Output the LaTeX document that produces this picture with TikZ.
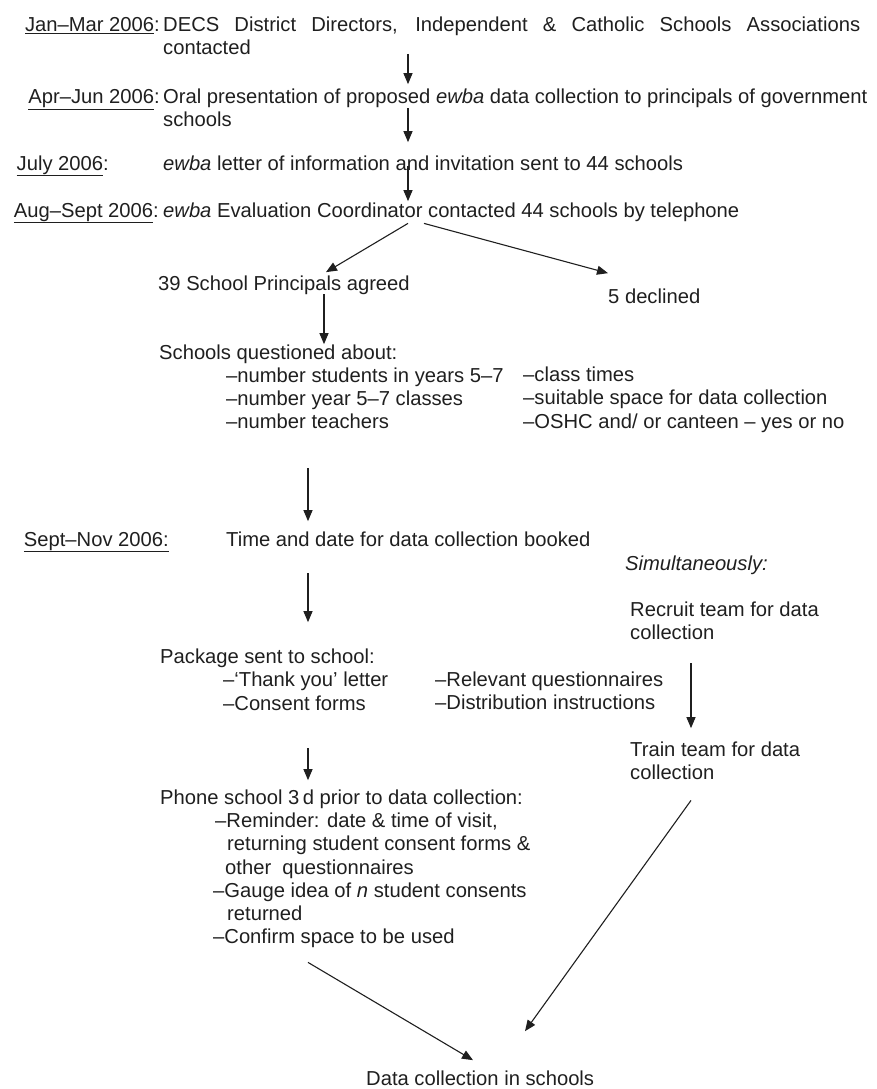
\documentclass[tikz,border=0pt]{standalone}
\usepackage{fontspec}
\setmainfont{Liberation Sans}
\usetikzlibrary{arrows.meta}
\usetikzlibrary{calc}

\begin{document}
\begin{tikzpicture}[x=1pt,y=-1pt,
    txt/.style={anchor=base west,inner sep=0pt,text=black!88,font=\fontsize{20.2}{23}\selectfont},
    datelbl/.style={txt,anchor=base east},
    flow/.style={draw=black!88,line width=1.1pt,-{Triangle[length=11pt,width=9pt]}}]
        \useasboundingbox (0,0) rectangle (877,1089);
        \coordinate (spine) at (408,0);
        \coordinate (lane) at (308,0);
        \coordinate (qlane) at (324,0);
        \coordinate (rlane) at (691,0);

        \node[datelbl] (jdate) at (160,32) {\underline{Jan–Mar 2006}:};
        \node[datelbl] (adate) at (160,104) {\underline{Apr–Jun 2006}:};
        \node[datelbl] (ydate) at (109,170) {\underline{July 2006}:};
        \node[datelbl] (gdate) at (159,217) {\underline{Aug–Sept 2006}:};
        \node[datelbl] (sdate) at (169,546) {\underline{Sept–Nov 2006:}};

        \node[txt] (jan1) at (163,32) {\makebox[697pt][s]{DECS District Directors, Independent \& Catholic Schools Associations}};
        \node[txt] (jan2) at (163,55) {contacted};
        \node[txt] (apr1) at (163,104) {Oral presentation of proposed \textit{ewba} data collection to principals of government};
        \node[txt] (apr2) at (163,127) {schools};
        \node[txt] (july) at (163,170) {\textit{ewba} letter of information and invitation sent to 44 schools};
        \node[txt] (aug) at (163,217) {\textit{ewba} Evaluation Coordinator contacted 44 schools by telephone};

        \node[txt] (agreed) at (158,290) {39 School Principals agreed};
        \node[txt] (declined) at (608,303) {5 declined};

        \node[txt] (quest) at (159,359) {Schools questioned about:};
        \node[txt] (q1) at (226,382) {–number students in years 5–7};
        \node[txt] (q2) at (226,405) {–number year 5–7 classes};
        \node[txt] (q3) at (226,428) {–number teachers};
        \node[txt] (q4) at (523,381) {–class times};
        \node[txt] (q5) at (523,404) {–suitable space for data collection};
        \node[txt] (q6) at (523,428) {–OSHC and/ or canteen – yes or no};

        \node[txt] (booked) at (226,546) {Time and date for data collection booked};
        \node[txt] (simul) at (625,570) {\textit{Simultaneously:}};
        \node[txt] (recruit) at (630,616) {Recruit team for data};
        \node[txt] (recruit2) at (630,639) {collection};

        \node[txt] (pack) at (160,663) {Package sent to school:};
        \node[txt] (p1) at (223,686) {–‘Thank you’ letter};
        \node[txt] (p2) at (223,710) {–Consent forms};
        \node[txt] (p3) at (435,686) {–Relevant questionnaires};
        \node[txt] (p4) at (435,709) {–Distribution instructions};

        \node[txt] (train) at (630,756) {Train team for data};
        \node[txt] (train2) at (630,779) {collection};

        \node[txt] (phone) at (160,804) {Phone school 3\,d prior to data collection:};
        \node[txt] (r1) at (215,827) {–Reminder: date \& time of visit,};
        \node[txt] (r2) at (227,850) {returning student consent forms \&};
        \node[txt] (r3) at (225,874) {other\ \ questionnaires};
        \node[txt] (r4) at (213,897) {–Gauge idea of \textit{n} student consents};
        \node[txt] (r5) at (227,920) {returned};
        \node[txt] (r6) at (213,943) {–Confirm space to be used};

        \node[txt] (final) at (366,1085) {Data collection in schools};

        \draw[flow] ([yshift=1pt]jan2.base -| spine) -- ([yshift=5pt]apr1.north -| spine);
        \draw[flow] (apr1.south -| spine) -- ([yshift=13pt]july.north -| spine);
        \draw[flow] ([yshift=4pt]july.base -| spine) -- ([yshift=1pt]aug.north -| spine);
        \draw[flow] ([yshift=-2pt]aug.south -| spine) -- ([xshift=42pt,yshift=3pt]agreed.north);
        \draw[flow] ([xshift=16pt,yshift=-2pt]aug.south -| spine) -- ([yshift=15pt]declined.north west);
        \draw[flow] (agreed.south -| qlane) -- (quest.north -| qlane);
        \draw[flow] ([yshift=-40pt]q3.south -| lane) -- ([yshift=10pt]booked.north -| lane);
        \draw[flow] ([yshift=-27pt]booked.south -| lane) -- ([yshift=26pt]pack.north -| lane);
        \draw[flow] ([yshift=-24pt]recruit2.south -| rlane) -- ([yshift=13pt]train.north -| rlane);
        \draw[flow] ([yshift=-38pt]p2.south -| lane) -- ([yshift=9pt]phone.north -| lane);
        \draw[flow] ([yshift=-15pt]r6.south -| lane) -- ([xshift=107pt,yshift=10pt]final.north west);
        \draw[flow] ([yshift=-21pt]train2.south -| rlane) -- ([xshift=159pt,yshift=39pt]final.north west);
      \end{tikzpicture}
\end{document}
